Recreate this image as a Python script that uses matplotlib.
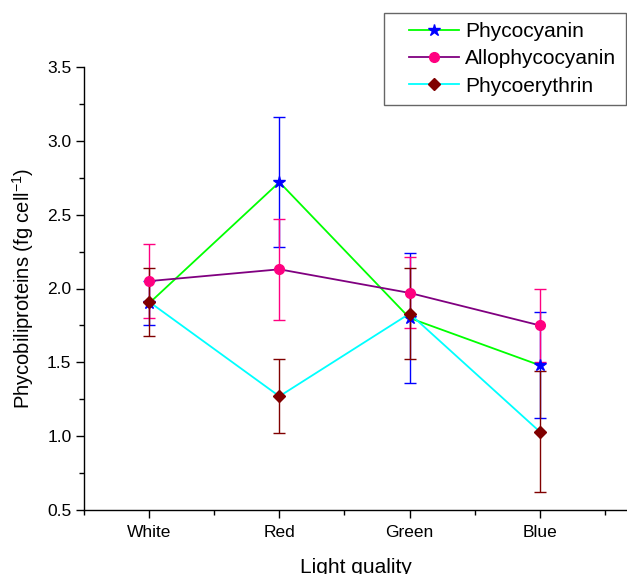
import matplotlib
matplotlib.use("Agg")
import matplotlib.pyplot as plt
from matplotlib.ticker import MultipleLocator, FixedLocator, FormatStrFormatter
from matplotlib.legend_handler import HandlerLine2D

plt.rcParams['font.family'] = ['Liberation Sans', 'DejaVu Sans']

categories = ["White", "Red", "Green", "Blue"]
phycocyanin = [1.90, 2.72, 1.80, 1.48]
phycocyanin_err = [0.15, 0.44, 0.44, 0.36]
allophycocyanin = [2.05, 2.13, 1.97, 1.75]
allophycocyanin_err = [0.25, 0.34, 0.24, 0.25]
phycoerythrin = [1.91, 1.27, 1.83, 1.03]
phycoerythrin_err = [0.23, 0.25, 0.31, 0.41]

fig = plt.figure(figsize=(6.27, 5.74), dpi=100)
ax = fig.add_axes([84/627, 64/574, 1 - 84/627, (510-67)/574])

x = list(range(len(categories)))

series = [
    ("Phycocyanin", phycocyanin, phycocyanin_err, "#00FF00", "#0000FF", "*", 9, "#0000FF"),
    ("Allophycocyanin", allophycocyanin, allophycocyanin_err, "#800080", "#FF0080", "o", 7, "#FF0080"),
    ("Phycoerythrin", phycoerythrin, phycoerythrin_err, "#00FFFF", "#800000", "D", 6.5, "#800000"),
]

handles = []
for name, vals, errs, lc, mc, mk, ms, ec in series:
    ax.errorbar(x, vals, yerr=errs, fmt='none', ecolor=ec, elinewidth=1.0,
                capsize=4.5, capthick=1.0, zorder=2)
    h, = ax.plot(x, vals, color=lc, lw=1.3, marker=mk, markersize=ms,
                 markerfacecolor=mc, markeredgecolor=mc, label=name, zorder=3)
    handles.append(h)

ax.set_xlim(-0.5, (627 - 150) / 130)
ax.set_ylim(0.5, 3.5)
ax.xaxis.set_major_locator(FixedLocator(x))
ax.set_xticklabels(categories)
ax.xaxis.set_minor_locator(FixedLocator([-0.5, 0.5, 1.5, 2.5, 3.5]))
ax.yaxis.set_major_locator(MultipleLocator(0.5))
ax.yaxis.set_minor_locator(MultipleLocator(0.25))
ax.yaxis.set_major_formatter(FormatStrFormatter('%.1f'))

for s in ['top', 'right']:
    ax.spines[s].set_visible(False)
for s in ['left', 'bottom']:
    ax.spines[s].set_linewidth(1.0)

ax.tick_params(which='major', direction='out', length=6, width=1, labelsize=12.5)
ax.tick_params(which='minor', direction='out', length=3.5, width=1)
ax.tick_params(axis='x', pad=5)
ax.tick_params(axis='y', pad=3)

ax.set_xlabel("Light quality", fontsize=15, labelpad=13)
ax.set_ylabel("Phycobiliproteins (fg cell$^{\\mathregular{-1}}$)", fontsize=14.5, labelpad=8)

hmap = {h: HandlerLine2D(xpad=0.75) for h in handles}
leg = fig.legend(handles=handles, loc='upper left', handler_map=hmap,
                 bbox_to_anchor=(384/627, 1 - 13/574), fontsize=15,
                 frameon=True, fancybox=False, borderpad=0.45,
                 handlelength=3.15, handletextpad=0.3, labelspacing=0.39,
                 borderaxespad=0)
leg.get_frame().set_edgecolor('#404040')
leg.get_frame().set_linewidth(1.0)

fig.savefig("out.png", dpi=100)
